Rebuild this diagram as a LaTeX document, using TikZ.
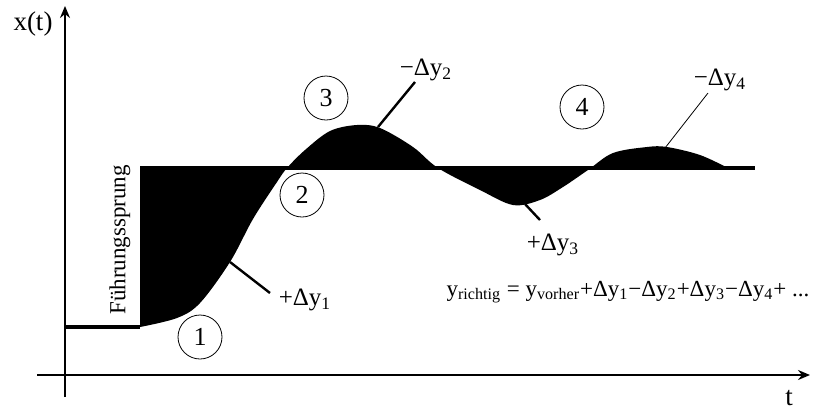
\documentclass[tikz,border=0pt]{standalone}
\usepackage{fontspec}
\setmainfont{Liberation Serif}
\usetikzlibrary{arrows.meta,positioning}

\begin{document}
\begin{tikzpicture}[x=0.5pt,y=-0.5pt,
    axis/.style={line width=1pt,-{Stealth[length=6pt,width=5pt,inset=2pt]}},
    level/.style={line width=1.6pt},
    leader/.style={line width=1.2pt},
    marker/.style={circle,draw,thin,minimum size=22pt,inner sep=0pt,font=\fontsize{13}{15}\selectfont},
    lbl/.style={font=\fontsize{11.5}{13}\selectfont,inner sep=1pt},
    dlbl/.style={font=\fontsize{12.5}{14}\selectfont,inner sep=1pt},
    big/.style={font=\fontsize{13.5}{15}\selectfont,inner sep=1pt}]
  \useasboundingbox (0,0) rectangle (816,409);

  % Axes
  \coordinate (xs) at (37,375);
  \coordinate (xe) at (810,375);
  \coordinate (ys) at (65,397);
  \coordinate (ye) at (65,6);
  \draw[axis] (xs) -- (xe);
  \draw[axis] (ys) -- (ye);
  \node[big] (xt) at (33,24) {x(t)};
  \node[big] (tt) at (789,398) {t};

  % Control deviation areas
  \fill (140,168) -- (140,327) -- plot[smooth,tension=0.55] coordinates {(140,327)
      (177,318) (200,303) (230,262) (253,219) (277,182) (287,168) (305,150)
      (330,131) (357,125) (380,128) (413,147) (438,168) (480,190) (513,205)
      (540,200) (563,187) (588,170) (613,153) (647,147) (667,147) (700,155)
      (728,168)} -- cycle;

  % Initial level and setpoint
  \draw[level] (65,327) -- (140,327);
  \draw[level] (140,168) -- (755,168);
  \node[lbl,rotate=90] (step) at (120,240) {Führungssprung};

  % Phase markers
  \node[marker] (m1) at (200,337) {1};
  \node[marker] (m2) at (302,195) {2};
  \node[marker] (m3) at (326,98) {3};
  \node[marker] (m4) at (582,107) {4};

  % Area labels
  \node[dlbl] (dy1) at (305,300) {+Δy\textsubscript{1}};
  \node[dlbl] (dy2) at (426,70) {−Δy\textsubscript{2}};
  \node[dlbl] (dy3) at (553,245) {+Δy\textsubscript{3}};
  \node[dlbl] (dy4) at (720,80) {−Δy\textsubscript{4}};
  \coordinate (p1) at (230,262);
  \coordinate (q1) at (270,293);
  \coordinate (p2) at (378,127);
  \coordinate (q2) at (415,82);
  \coordinate (p3) at (525,204);
  \coordinate (q3) at (540,220);
  \coordinate (p4) at (665,148);
  \coordinate (q4) at (708,93);
  \draw[leader] (p1) -- (q1);
  \draw[leader] (p2) -- (q2);
  \draw[leader] (p3) -- (q3);
  \draw[thin] (p4) -- (q4);

  % Sum
  \node[lbl] (sum) at (628,292) {y\textsubscript{richtig} = y\textsubscript{vorher}+Δy\textsubscript{1}−Δy\textsubscript{2}+Δy\textsubscript{3}−Δy\textsubscript{4}+ ...};
\end{tikzpicture}
\end{document}
